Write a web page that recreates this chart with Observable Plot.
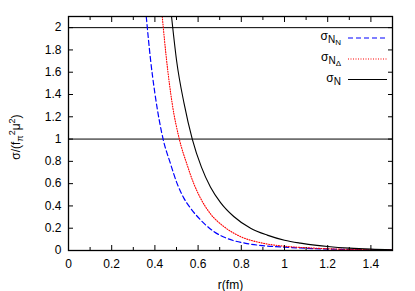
<!DOCTYPE html>
<html><head><meta charset="utf-8">
<script src="https://cdn.jsdelivr.net/npm/d3@7"></script>
<script src="https://cdn.jsdelivr.net/npm/@observablehq/plot@0.6"></script>
<style>body{margin:0;background:#fff}</style>
</head><body><div id="chart"></div>
<script>
// sigma_{N_N}
const rNN = [0.36, 0.38, 0.40, 0.438, 0.472, 0.503, 0.534, 0.565, 0.611, 0.673, 0.735, 0.827, 0.92, 1.0, 1.1, 1.2, 1.3, 1.4, 1.5];
const sNN = [2.1, 1.71, 1.41, 1.0, 0.78, 0.60, 0.47, 0.38, 0.275, 0.17, 0.108, 0.062, 0.04, 0.03, 0.02, 0.013, 0.009, 0.006, 0.004];
// sigma_{N_Delta}
const rND = [0.434, 0.454, 0.48, 0.513, 0.549, 0.58, 0.611, 0.657, 0.719, 0.796, 0.889, 1.0, 1.1, 1.2, 1.3, 1.4, 1.5];
const sND = [2.1, 1.71, 1.32, 1.0, 0.77, 0.60, 0.47, 0.33, 0.215, 0.125, 0.07, 0.038, 0.025, 0.016, 0.01, 0.007, 0.005];
// sigma_N
const rN = [0.477, 0.50, 0.535, 0.573, 0.615, 0.657, 0.704, 0.765, 0.843, 0.92, 1.0, 1.074, 1.15, 1.2, 1.3, 1.4, 1.5];
const sN = [2.1, 1.71, 1.32, 1.0, 0.75, 0.57, 0.43, 0.305, 0.2, 0.138, 0.092, 0.066, 0.046, 0.036, 0.021, 0.012, 0.007];

const yRefs = [1, 2];
const xTicks = [0, 0.2, 0.4, 0.6, 0.8, 1, 1.2, 1.4];
const xMinor = [0.1, 0.3, 0.5, 0.7, 0.9, 1.1, 1.3];
const yTicks = [0, 0.2, 0.4, 0.6, 0.8, 1, 1.2, 1.4, 1.6, 1.8, 2];
const xLabel = "r(fm)";

const toRows = (R, S) => R.map((r, i) => ({r, s: S[i]}));
const dNN = toRows(rNN, sNN), dND = toRows(rND, sND), dN = toRows(rN, sN);
const fmt = d3.format("~g");
const blank = () => "";

const plot = Plot.plot({
  width: 415, height: 291,
  marginLeft: 68, marginRight: 23, marginTop: 16, marginBottom: 41,
  style: {fontFamily: "'Liberation Sans', Arial, sans-serif", fontSize: "12px", background: "white", color: "black", overflow: "visible"},
  x: {domain: [0, 1.5], label: null},
  y: {domain: [0, 2.1], label: null},
  marks: [
    Plot.ruleY(yRefs, {stroke: "black", strokeWidth: 1}),
    Plot.line(dNN, {x: "r", y: "s", stroke: "#0000ff", strokeWidth: 1.2, strokeDasharray: "5,3", curve: "monotone-x", clip: true}),
    Plot.line(dND, {x: "r", y: "s", stroke: "#ff0000", strokeWidth: 1.1, strokeDasharray: "1,1.5", curve: "monotone-x", clip: true}),
    Plot.line(dN, {x: "r", y: "s", stroke: "black", strokeWidth: 1.1, curve: "monotone-x", clip: true}),
    Plot.frame({stroke: "black", strokeWidth: 1.3}),
    Plot.axisX({ticks: xTicks, tickSize: -5, tickPadding: 14, tickFormat: fmt, label: xLabel, labelAnchor: "center", labelArrow: "none", labelOffset: 38}),
    Plot.axisX({ticks: xMinor, tickSize: -3, tickFormat: blank, label: null}),
    Plot.axisX({anchor: "top", ticks: xTicks, tickSize: -5, tickFormat: blank, label: null}),
    Plot.axisX({anchor: "top", ticks: xMinor, tickSize: -3, tickFormat: blank, label: null}),
    Plot.axisY({ticks: yTicks, tickSize: -5, tickPadding: 12, tickFormat: fmt, label: null}),
    Plot.axisY({anchor: "right", ticks: yTicks, tickSize: -5, tickFormat: blank, label: null})
  ]
});
document.getElementById("chart").appendChild(plot);

const svg = d3.select(plot);
const ff = "'Liberation Sans', Arial, sans-serif";
// y-axis label
const yl = svg.append("text").attr("transform", "translate(20,137) rotate(-90)")
  .attr("text-anchor", "middle").attr("font-family", ff).attr("font-size", 12).attr("fill", "black");
yl.append("tspan").text("σ/(f");
yl.append("tspan").attr("font-size", 9).attr("dy", 3).text("π");
yl.append("tspan").attr("font-size", 9).attr("dy", -8).text("2");
yl.append("tspan").attr("dy", 5).text("μ");
yl.append("tspan").attr("font-size", 9).attr("dy", -5).text("2");
yl.append("tspan").attr("dy", 5).text(")");

// legend
const legend = [
  {sub: "N", subsub: "N", stroke: "#0000ff", dash: "5,3", y: 38},
  {sub: "N", subsub: "Δ", stroke: "#ff0000", dash: "1,1.5", y: 59},
  {sub: "N", subsub: null, stroke: "black", dash: null, y: 79.5}
];
for (const e of legend) {
  svg.append("line").attr("x1", 348).attr("x2", 387).attr("y1", e.y).attr("y2", e.y)
    .attr("stroke", e.stroke).attr("stroke-width", 1.2).attr("stroke-dasharray", e.dash);
  const t = svg.append("text").attr("x", 341).attr("y", e.y + 2).attr("text-anchor", "end")
    .attr("font-family", ff).attr("font-size", 12).attr("fill", "black");
  t.append("tspan").text("σ");
  t.append("tspan").attr("font-size", 10).attr("dy", 3).text(e.sub);
  if (e.subsub) t.append("tspan").attr("font-size", 8).attr("dy", 2).text(e.subsub);
}
</script></body></html>
